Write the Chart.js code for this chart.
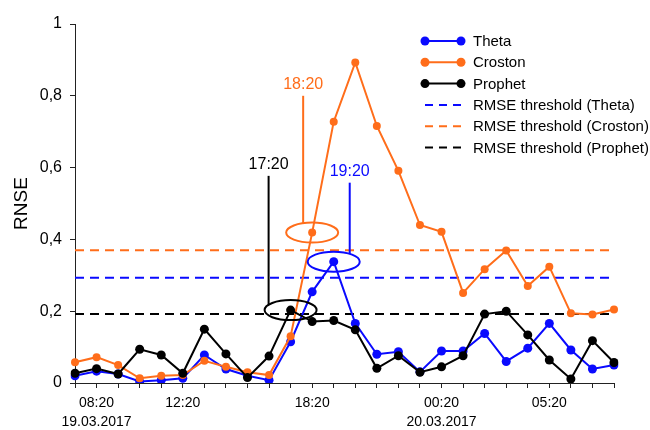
<!DOCTYPE html>
<html>
<head>
<meta charset="utf-8">
<script src="https://cdn.jsdelivr.net/npm/chart.js@4.4.0/dist/chart.umd.min.js"></script>
<style>
  html, body { margin: 0; padding: 0; background: #fff; }
</style>
</head>
<body>
<canvas id="rnse" width="650" height="430"></canvas>
<script>
var hours = ["07:20", "08:20", "09:20", "10:20", "11:20", "12:20", "13:20", "14:20", "15:20",
  "16:20", "17:20", "18:20", "19:20", "20:20", "21:20", "22:20", "23:20", "00:20", "01:20",
  "02:20", "03:20", "04:20", "05:20", "06:20", "07:20", "08:20"];
var shownTicks = [1, 5, 11, 17, 22];
var tickDates = { 1: "19.03.2017", 17: "20.03.2017" };

var theta = [0.02, 0.033, 0.025, 0.004, 0.008, 0.013, 0.078, 0.039, 0.02, 0.008, 0.115, 0.254, 0.338,
  0.166, 0.08, 0.087, 0.031, 0.089, 0.089, 0.138, 0.06, 0.097, 0.166, 0.092, 0.039, 0.05];
var croston = [0.058, 0.072, 0.05, 0.013, 0.02, 0.022, 0.062, 0.045, 0.03, 0.022, 0.13, 0.419, 0.728,
  0.893, 0.716, 0.591, 0.44, 0.421, 0.251, 0.317, 0.369, 0.27, 0.324, 0.194, 0.191, 0.205];
var prophet = [0.027, 0.04, 0.025, 0.094, 0.078, 0.027, 0.15, 0.081, 0.015, 0.075, 0.203, 0.171, 0.174,
  0.148, 0.041, 0.076, 0.03, 0.045, 0.076, 0.192, 0.2, 0.134, 0.064, 0.011, 0.118, 0.057];

var thresholds = [0.293, 0.37, 0.192];
var names = ["Theta", "Croston", "Prophet"];
var colors = ["#0a0aff", "#ff6d1a", "#000000"];

// callouts: series index, point index, text, x offset of the stem, top of stem (value)
var callouts = [
  { series: 2, index: 10, text: "17:20", dx: -22, top: 0.577 },
  { series: 1, index: 11, text: "18:20", dx: -9, top: 0.80 },
  { series: 0, index: 12, text: "19:20", dx: 16, top: 0.558 }
];

var fontFam = "'Liberation Sans', Arial, sans-serif";

function lineSet(i, values, radius, order) {
  return {
    label: names[i],
    data: values,
    borderColor: colors[i],
    backgroundColor: colors[i],
    borderWidth: 2,
    pointRadius: radius,
    pointBorderWidth: 0,
    pointBackgroundColor: colors[i],
    order: order,
    tension: 0
  };
}

function thresholdSet(i) {
  return {
    label: "RMSE threshold (" + names[i] + ")",
    data: hours.map(function () { return thresholds[i]; }),
    borderColor: colors[i],
    borderWidth: 2,
    borderDash: [9, 6],
    pointRadius: 0,
    order: 5 + i,
    isThreshold: true
  };
}

var calloutPlugin = {
  id: "callouts",
  afterDatasetsDraw: function (chart) {
    var ctx = chart.ctx;
    var xs = chart.scales.x, ys = chart.scales.y;
    var rx = 26, ry = 10;
    callouts.forEach(function (c) {
      var vals = [theta, croston, prophet][c.series];
      var cx = xs.getPixelForValue(c.index);
      var cy = ys.getPixelForValue(vals[c.index]);
      var sx = cx + c.dx;
      var sy = cy - ry * Math.sqrt(Math.max(0, 1 - (c.dx / rx) * (c.dx / rx)));
      var ty = ys.getPixelForValue(c.top);
      ctx.save();
      ctx.strokeStyle = colors[c.series];
      ctx.lineWidth = 2;
      ctx.beginPath();
      ctx.ellipse(cx, cy, rx, ry, 0, 0, Math.PI * 2);
      ctx.stroke();
      ctx.beginPath();
      ctx.moveTo(sx, sy);
      ctx.lineTo(sx, ty);
      ctx.stroke();
      ctx.fillStyle = colors[c.series];
      ctx.font = "16px " + fontFam;
      ctx.textAlign = "center";
      ctx.textBaseline = "middle";
      ctx.fillText(c.text, sx, ty - 11);
      ctx.restore();
    });
  }
};

var legendPlugin = {
  id: "sideLegend",
  afterDraw: function (chart) {
    var ctx = chart.ctx;
    var x0 = 425, x1 = 461, tx = 473, y0 = 41, step = 21.3;
    ctx.save();
    ctx.font = "15px " + fontFam;
    ctx.textBaseline = "middle";
    ctx.textAlign = "left";
    chart.data.datasets.forEach(function (ds, r) {
      var y = y0 + r * step;
      ctx.strokeStyle = ds.borderColor;
      ctx.lineWidth = 2;
      if (ds.isThreshold) {
        ctx.setLineDash([8, 6]);
        ctx.beginPath();
        ctx.moveTo(x0, y);
        ctx.lineTo(x0 + 38, y);
        ctx.stroke();
        ctx.setLineDash([]);
      } else {
        ctx.beginPath();
        ctx.moveTo(x0, y);
        ctx.lineTo(x1, y);
        ctx.stroke();
        ctx.fillStyle = ds.borderColor;
        [x0, x1].forEach(function (px) {
          ctx.beginPath();
          ctx.arc(px, y, 4.5, 0, Math.PI * 2);
          ctx.fill();
        });
      }
      ctx.fillStyle = "#000";
      ctx.fillText(ds.label, tx, y + 1);
    });
    ctx.restore();
  }
};

new Chart("rnse", {
  type: "line",
  data: {
    labels: hours,
    datasets: [
      lineSet(0, theta, 4.5, 3),
      lineSet(1, croston, 4, 2),
      lineSet(2, prophet, 4.5, 1),
      thresholdSet(0),
      thresholdSet(1),
      thresholdSet(2)
    ]
  },
  options: {
    responsive: false,
    animation: false,
    layout: { padding: { top: 24, right: 36, left: 0, bottom: 0 } },
    plugins: {
      legend: { display: false },
      tooltip: { enabled: false }
    },
    scales: {
      x: {
        type: "category",
        offset: false,
        grid: { drawOnChartArea: false, drawTicks: true, tickLength: 5, color: "#222" },
        border: { color: "#222", width: 1 },
        ticks: {
          autoSkip: false,
          maxRotation: 0,
          padding: 5,
          color: "#000",
          font: { family: fontFam, size: 14, lineHeight: 1.4 },
          callback: function (v, i) {
            if (shownTicks.indexOf(i) < 0) return "";
            return tickDates[i] ? [hours[i], tickDates[i]] : hours[i];
          }
        },
        afterFit: function (s) { s.height = 47; }
      },
      y: {
        min: 0,
        max: 1,
        grid: { drawOnChartArea: false, drawTicks: true, tickLength: 5, color: "#222" },
        border: { color: "#222", width: 1 },
        ticks: {
          stepSize: 0.2,
          padding: 8,
          color: "#000",
          font: { family: fontFam, size: 16 },
          callback: function (v) { return String(Math.round(v * 10) / 10).replace(".", ","); }
        },
        title: {
          display: true,
          text: "RNSE",
          color: "#000",
          font: { family: fontFam, size: 19 },
          padding: { top: 10, bottom: 0 }
        },
        afterFit: function (s) { s.width = 75; }
      }
    }
  },
  plugins: [calloutPlugin, legendPlugin]
});
</script>
</body>
</html>
